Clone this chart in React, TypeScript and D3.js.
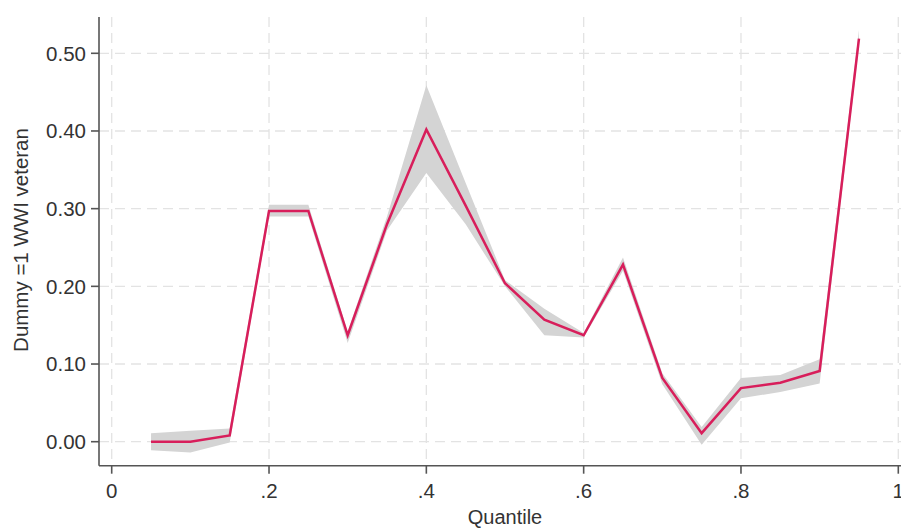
import React from "react";
import * as d3 from "d3";

const quantiles = [0.05, 0.1, 0.15, 0.2, 0.25, 0.3, 0.35, 0.4, 0.45, 0.5, 0.55, 0.6, 0.65, 0.7, 0.75, 0.8, 0.85, 0.9, 0.95];
const estimate = [0.0, 0.0, 0.008, 0.297, 0.297, 0.137, 0.28, 0.402, 0.304, 0.204, 0.157, 0.137, 0.228, 0.082, 0.011, 0.069, 0.076, 0.091, 0.519];
const lower = [-0.011, -0.014, -0.001, 0.29, 0.29, 0.127, 0.272, 0.346, 0.28, 0.2, 0.137, 0.134, 0.22, 0.074, -0.004, 0.056, 0.064, 0.075, 0.51];
const upper = [0.011, 0.014, 0.017, 0.305, 0.305, 0.142, 0.29, 0.459, 0.333, 0.208, 0.171, 0.14, 0.237, 0.088, 0.019, 0.082, 0.086, 0.106, 0.53];

const yTicks = [0, 0.1, 0.2, 0.3, 0.4, 0.5];
const yTickLabels = ["0.00", "0.10", "0.20", "0.30", "0.40", "0.50"];
const xTicks = [0, 0.2, 0.4, 0.6, 0.8, 1];
const xTickLabels = ["0", ".2", ".4", ".6", ".8", "1"];

const yTitle = "Dummy =1 WWI veteran";
const xTitle = "Quantile";

export default function App() {
  const W = 901;
  const H = 528;
  const axisX = 99;
  const axisY = 465.7;
  const topY = 17;
  const x = d3.scaleLinear().domain([0, 1]).range([111.7, 898.3]);
  const y = d3.scaleLinear().domain([0, 0.5]).range([441.7, 53.3]);

  const rows = quantiles.map((q, i) => ({ q, est: estimate[i], lo: lower[i], hi: upper[i] }));
  const area = d3
    .area<any>()
    .x((d) => x(d.q))
    .y0((d) => y(d.lo))
    .y1((d) => y(d.hi));
  const line = d3
    .line<any>()
    .x((d) => x(d.q))
    .y((d) => y(d.est));

  const font = "'Liberation Sans', Arial, sans-serif";
  const textColor = "#333";
  const axisColor = "#555";
  const gridColor = "#e3e3e3";

  return (
    <svg
      width={W}
      height={H}
      style={{ position: "absolute", left: 0, top: 0, background: "#fff" }}
      fontFamily={font}
    >
      <rect x={0} y={0} width={W} height={H} fill="#fff" />
      {/* grid */}
      {yTicks.map((t) => (
        <line
          key={"gy" + t}
          x1={axisX}
          x2={W}
          y1={y(t)}
          y2={y(t)}
          stroke={gridColor}
          strokeWidth={1.3}
          strokeDasharray="10,6"
        />
      ))}
      {xTicks.map((t) => (
        <line
          key={"gx" + t}
          x1={x(t)}
          x2={x(t)}
          y1={topY}
          y2={axisY}
          stroke={gridColor}
          strokeWidth={1.3}
          strokeDasharray="10,6"
        />
      ))}
      {/* band */}
      <path d={area(rows) || ""} fill="#d4d4d4" stroke="none" />
      {/* line */}
      <path
        d={line(rows) || ""}
        fill="none"
        stroke="#d81e5b"
        strokeWidth={2.5}
        strokeLinejoin="miter"
      />
      {/* axes */}
      <line x1={axisX} x2={axisX} y1={topY} y2={axisY} stroke={axisColor} strokeWidth={1.6} />
      <line x1={axisX} x2={W} y1={axisY} y2={axisY} stroke={axisColor} strokeWidth={1.6} />
      {yTicks.map((t, i) => (
        <g key={"ty" + t}>
          <line x1={axisX - 8} x2={axisX} y1={y(t)} y2={y(t)} stroke={axisColor} strokeWidth={1.6} />
          <text
            x={86}
            y={y(t)}
            dy="0.36em"
            textAnchor="end"
            fontSize={20.5}
            fill={textColor}
          >
            {yTickLabels[i]}
          </text>
        </g>
      ))}
      {xTicks.map((t, i) => (
        <g key={"tx" + t}>
          <line x1={x(t)} x2={x(t)} y1={axisY} y2={axisY + 8} stroke={axisColor} strokeWidth={1.6} />
          <text x={x(t)} y={498} textAnchor="middle" fontSize={20.5} fill={textColor}>
            {xTickLabels[i]}
          </text>
        </g>
      ))}
      <text
        x={505}
        y={524}
        textAnchor="middle"
        fontSize={20}
        fill={textColor}
      >
        {xTitle}
      </text>
      <text
        transform={`translate(28,240) rotate(-90)`}
        textAnchor="middle"
        fontSize={20.5}
        fill={textColor}
      >
        {yTitle}
      </text>
    </svg>
  );
}
